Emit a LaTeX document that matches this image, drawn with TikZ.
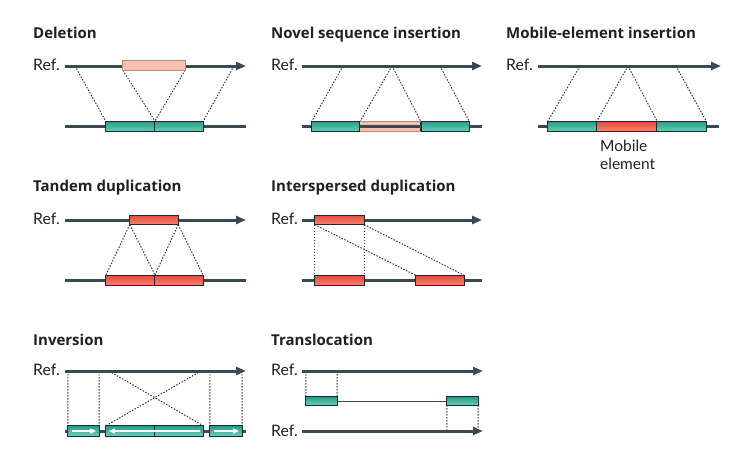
\documentclass[tikz,border=0pt]{standalone}
\usepackage{fontspec}
\setmainfont{Lato}
\newfontfamily\ttlfont{Open Sans}
\usetikzlibrary{arrows.meta}
\definecolor{linec}{HTML}{3B4A52}
\definecolor{txt}{HTML}{231F20}
\definecolor{tealA}{HTML}{1F9F88}
\definecolor{tealB}{HTML}{72CDB9}
\definecolor{redA}{HTML}{E44A39}
\definecolor{redB}{HTML}{F28A72}
\definecolor{pinkA}{HTML}{F6C1AC}
\definecolor{pinkD}{HTML}{B48C80}
\definecolor{boxd}{HTML}{1C2B2B}
\definecolor{dotc}{HTML}{333333}
\tikzset{
  refline/.style={line width=3pt, color=linec, -{Triangle[length=10pt,width=8pt]}},
  chrom/.style={line width=3pt, color=linec},
  dots/.style={line width=0.95pt, color=dotc, dash pattern=on 1.5pt off 1.5pt},
  boxbase/.style={rectangle, inner sep=0pt, draw=boxd, line width=0.8pt, minimum height=10pt},
  tealbox/.style={boxbase, top color=tealA, bottom color=tealB},
  redbox/.style={boxbase, top color=redA, bottom color=redB},
  pinkbox/.style={boxbase, fill=pinkA, draw=pinkD},
  ttl/.style={anchor=base west, inner sep=0pt, text=txt, font=\ttlfont\bfseries\fontsize{15}{18}\selectfont},
  reflab/.style={anchor=base west, inner sep=0pt, text=txt, font=\fontsize{15.8}{18}\selectfont},
  lab/.style={anchor=base west, inner sep=0pt, text=txt, font=\fontsize{15.5}{19}\selectfont},
  warrow/.style={white, line width=1.4pt, -{Triangle[length=6pt,width=5pt]}},
  thinl/.style={line width=0.6pt, color=linec}
}
\begin{document}
\begin{tikzpicture}[x=1pt,y=-1pt]
\useasboundingbox (0,0) rectangle (735,453);

% ---------- titles and labels ----------
\node[ttl] (tDel) at (33,38) {Deletion};
\node[reflab] (rDel) at (33,70.5) {Ref.};
\node[ttl] (tNov) at (271,38) {Novel sequence insertion};
\node[reflab] (rNov) at (271,70.5) {Ref.};
\node[ttl] (tMob) at (506,38) {Mobile-element insertion};
\node[reflab] (rMob) at (506,70.5) {Ref.};
\node[lab] (mobL1) at (600,151) {Mobile};
\node[lab] (mobL2) at (600,169) {element};
\node[ttl] (tTan) at (33,191) {Tandem duplication};
\node[reflab] (rTan) at (33,224.5) {Ref.};
\node[ttl] (tInt) at (271,191) {Interspersed duplication};
\node[reflab] (rInt) at (271,224.5) {Ref.};
\node[ttl] (tInv) at (33,345) {Inversion};
\node[reflab] (rInv) at (33,375.5) {Ref.};
\node[ttl] (tTra) at (271,345) {Translocation};
\node[reflab] (rTra1) at (271,375.5) {Ref.};
\node[reflab] (rTra2) at (271,436) {Ref.};

% ---------- coordinates ----------
\coordinate (dA1) at (65,66); \coordinate (dA2) at (246,66);
\coordinate (dB1) at (65,126.5); \coordinate (dB2) at (246,126.5);
\coordinate (dP1) at (75,66); \coordinate (dP2) at (234,66);
\coordinate (nA1) at (302,66); \coordinate (nA2) at (482,66);
\coordinate (nB1) at (302,126.5); \coordinate (nB2) at (482,126.5);
\coordinate (nP1) at (343,66); \coordinate (nP2) at (392,66); \coordinate (nP3) at (440,66);
\coordinate (mA1) at (538,66); \coordinate (mA2) at (721,66);
\coordinate (mB1) at (538,126.5); \coordinate (mB2) at (719,126.5);
\coordinate (mP1) at (580,66); \coordinate (mP2) at (628,66); \coordinate (mP3) at (676,66);
\coordinate (tA1) at (65,220); \coordinate (tA2) at (246,220);
\coordinate (tB1) at (65,280.5); \coordinate (tB2) at (246,280.5);
\coordinate (iA1) at (302,220); \coordinate (iA2) at (482,220);
\coordinate (iB1) at (302,280.5); \coordinate (iB2) at (482,280.5);
\coordinate (vA1) at (65,371); \coordinate (vA2) at (246,371);
\coordinate (vB1) at (65,431); \coordinate (vB2) at (246,431);
\coordinate (vP1) at (68,371); \coordinate (vP2) at (99,371);
\coordinate (vP3) at (109,371); \coordinate (vP4) at (201,371);
\coordinate (vP5) at (210,371); \coordinate (vP6) at (242,371);
\coordinate (lA1) at (302,371); \coordinate (lA2) at (483,371);
\coordinate (lB1) at (302,431); \coordinate (lB2) at (483,431);
\coordinate (lP1) at (306,371); \coordinate (lP2) at (337,371);
\coordinate (lQ1) at (447,431); \coordinate (lQ2) at (478,431);

% ---------- box placeholders (painted on top below) ----------
\foreach \b/\w/\h/\p in {
  delP/62/9/{154,65.5}, delT1/49/10/{130.5,126.5}, delT2/48/10/{179,126.5},
  novT1/48/10/{336,126.5}, novP/61/10/{390.5,126.5}, novT2/48/10/{445,126.5},
  mobT1/49/10/{572.5,126.5}, mobR/60/10/{627,126.5}, mobT2/49/10/{681.5,126.5},
  tdR/48/9/{154,220}, tdB1/49/10/{130.5,280.5}, tdB2/48/10/{179,280.5},
  isR/49/9/{339.5,220}, isB1/49/10/{339.5,280.5}, isB2/48/10/{440,280.5},
  inB1/31/10/{83.5,431}, inB2/49/10/{130.5,431}, inB3/48/10/{179,431}, inB4/32/10/{226,431},
  tl1/31/8/{321.5,401}, tl2/31/8/{462.5,401}}
  {\node[rectangle, inner sep=0pt, minimum width=\w pt, minimum height=\h pt] (\b) at (\p) {};}

% ---------- dotted connectors ----------
\draw[dots] (dP1) -- (delT1.north west);
\draw[dots] (delP.south west) -- (delT1.north east);
\draw[dots] (delP.south east) -- (delT2.north west);
\draw[dots] (dP2) -- (delT2.north east);

\draw[dots] (nP1) -- (novT1.north west);
\draw[dots] (nP2) -- (novT1.north east);
\draw[dots] (nP2) -- (novT2.north west);
\draw[dots] (nP3) -- (novT2.north east);

\draw[dots] (mP1) -- (mobT1.north west);
\draw[dots] (mP2) -- (mobR.north west);
\draw[dots] (mP2) -- (mobR.north east);
\draw[dots] (mP3) -- (mobT2.north east);

\draw[dots] (tdR.south west) -- (tdB1.north west);
\draw[dots] (tdR.south west) -- (tdB1.north east);
\draw[dots] (tdR.south east) -- (tdB2.north west);
\draw[dots] (tdR.south east) -- (tdB2.north east);

\draw[dots] (isR.south west) -- (isB1.north west);
\draw[dots] (isR.south east) -- (isB1.north east);
\draw[dots] (isR.south west) -- (isB2.north west);
\draw[dots] (isR.south east) -- (isB2.north east);

\draw[dots] (vP1) -- (inB1.north west);
\draw[dots] (vP2) -- (inB1.north east);
\draw[dots] (vP3) -- (inB3.north east);
\draw[dots] (vP4) -- (inB2.north west);
\draw[dots] (vP5) -- (inB4.north west);
\draw[dots] (vP6) -- (inB4.north east);

\draw[dots] (lP1) -- (tl1.north west);
\draw[dots] (lP2) -- (tl1.north east);
\draw[dots] (tl2.south west) -- (lQ1);
\draw[dots] (tl2.south east) -- (lQ2);

% ---------- chromosome lines ----------
\draw[refline] (dA1) -- (dA2);
\draw[chrom] (dB1) -- (dB2);
\draw[refline] (nA1) -- (nA2);
\draw[chrom] (nB1) -- (nB2);
\draw[refline] (mA1) -- (mA2);
\draw[chrom] (mB1) -- (mB2);
\draw[refline] (tA1) -- (tA2);
\draw[chrom] (tB1) -- (tB2);
\draw[refline] (iA1) -- (iA2);
\draw[chrom] (iB1) -- (iB2);
\draw[refline] (vA1) -- (vA2);
\draw[chrom] (vB1) -- (vB2);
\draw[refline] (lA1) -- (lA2);
\draw[refline] (lB1) -- (lB2);
\draw[thinl] (tl1.east) -- (tl2.west);

% ---------- boxes on top ----------
\foreach \b/\s in {delP/pinkbox, delT1/tealbox, delT2/tealbox,
  novT1/tealbox, novP/pinkbox, novT2/tealbox,
  mobT1/tealbox, mobR/redbox, mobT2/tealbox,
  tdR/redbox, tdB1/redbox, tdB2/redbox,
  isR/redbox, isB1/redbox, isB2/redbox,
  inB1/tealbox, inB2/tealbox, inB3/tealbox, inB4/tealbox,
  tl1/tealbox, tl2/tealbox}
  {\path[\s, draw=boxd, line width=0.8pt] (\b.south west) rectangle (\b.north east);}
\draw[pinkD, line width=0.8pt] (delP.south west) rectangle (delP.north east);
\draw[pinkD, line width=0.8pt] (novP.south west) rectangle (novP.north east);

% novel-sequence band shows the line through it
\draw[line width=3pt, color=linec] (novP.west) -- (novP.east);
\draw[boxd, line width=0.8pt] (novP.south west) -- (novP.north west) (novP.south east) -- (novP.north east);

% white orientation arrows
\draw[warrow] ([xshift=4pt]inB1.west) -- ([xshift=-3pt]inB1.east);
\draw[warrow] ([xshift=-3pt]inB3.east) -- ([xshift=3pt]inB2.west);
\draw[warrow] ([xshift=4pt]inB4.west) -- ([xshift=-3pt]inB4.east);
\end{tikzpicture}
\end{document}
